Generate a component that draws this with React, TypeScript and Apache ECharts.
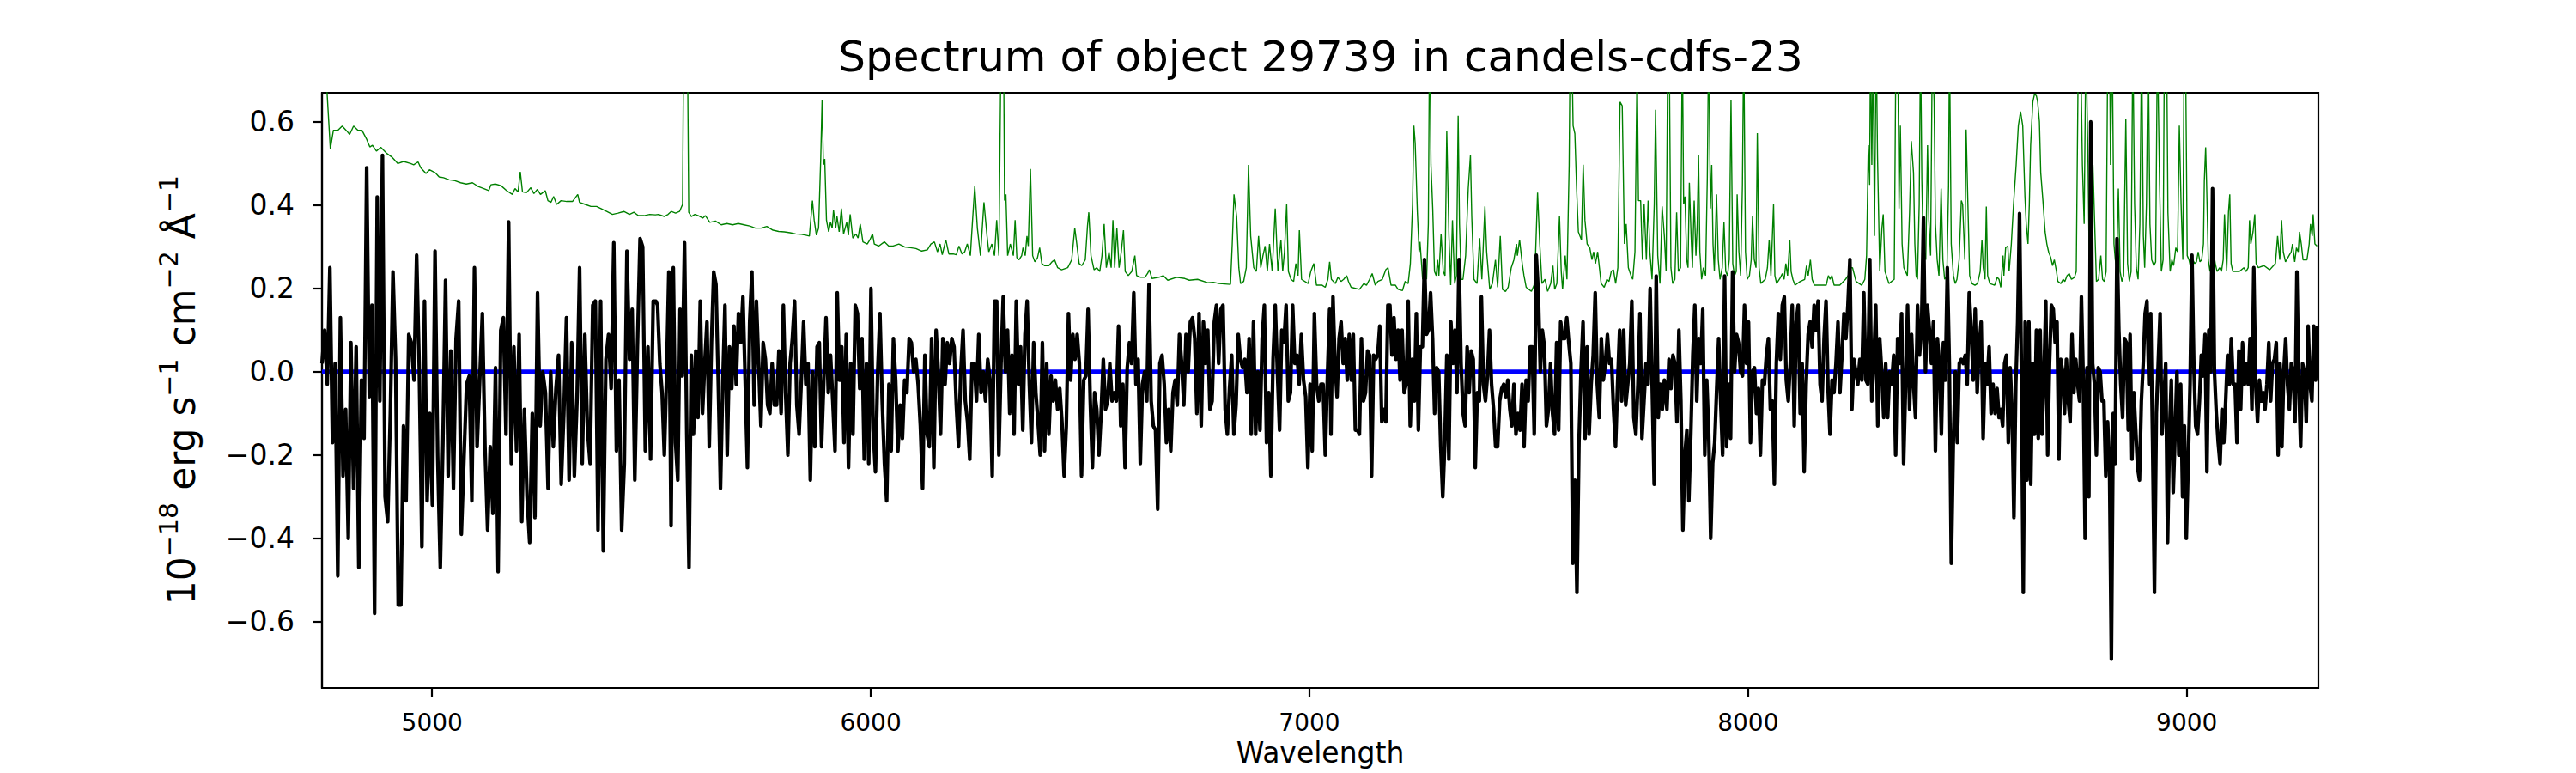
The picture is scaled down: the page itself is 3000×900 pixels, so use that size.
import React, { useEffect, useRef } from "react";
import * as echarts from "echarts";

const TITLE = "Spectrum of object 29739 in candels-cdfs-23";
const X_LABEL = "Wavelength";
const X_MIN = 4749;
const X_MAX = 9300;
const Y_MIN = -0.759;
const Y_MAX = 0.67;
const X_TICKS = [5000, 6000, 7000, 8000, 9000];
const Y_TICKS = [-0.6, -0.4, -0.2, 0, 0.2, 0.4, 0.6];
const ZERO_LEVEL = 0;

// Observed flux, read in six consecutive wavelength stretches (start, end in Angstrom)
const FLUX_RANGES = [
  [4749, 5510],
  [5514, 6282],
  [6287, 7046],
  [7049, 7809],
  [7815, 8572],
  [8576, 9298],
];
const FLUX_A = [0.02, 0.10, -0.03, 0.25, -0.17, 0.02, -0.49, 0.13, -0.25, -0.09, -0.40, 0.07, -0.28, 0.06, -0.47, -0.02, -0.16, 0.49, -0.06, 0.16, -0.58, 0.42, -0.07, 0.52, -0.30, -0.36, -0.10, 0.24, 0.03, -0.56, -0.56, -0.13, -0.31, 0.09, 0.07, -0.02, 0.28, 0.01, -0.42, 0.17, -0.31, -0.10, -0.32, 0.29, -0.20, -0.47, -0.17, 0.22, -0.25, 0.05, -0.28, 0.08, 0.17, -0.39, -0.21, -0.03, -0.01, -0.31, 0.25, -0.18, -0.02, 0.14, -0.18, -0.38, -0.18, -0.34, 0.01, -0.48, 0.10, 0.13, -0.15, 0.36, -0.22, 0.06, -0.19, 0.09, -0.36, -0.09, -0.30, -0.41, -0.10, -0.35, 0.19, -0.13, 0.00, -0.05, -0.28, 0.00, -0.18, -0.04, 0.04, -0.27, -0.10, 0.13, -0.26, 0.07, -0.25, -0.07, 0.25, -0.22, 0.09, -0.14, -0.22, 0.16, 0.17, -0.38, 0.17, -0.43, 0.03, 0.09, -0.04, 0.31, -0.19, -0.02, -0.38, -0.22, 0.29, 0.03, 0.15, -0.26, 0.06, 0.32, 0.30, -0.19, 0.06, -0.21, 0.17, 0.17];
const FLUX_B = [0.16, 0.02, -0.05, -0.20, -0.01, 0.24, -0.37, 0.25, -0.17, -0.26, 0.15, -0.01, 0.31, -0.15, -0.47, 0.04, -0.15, 0.05, -0.11, 0.17, -0.10, 0.02, 0.12, -0.18, 0.07, 0.24, 0.21, -0.02, -0.28, -0.03, 0.16, -0.20, 0.06, -0.04, 0.11, -0.03, 0.14, 0.07, 0.18, -0.02, -0.23, 0.12, 0.24, -0.08, 0.17, 0.02, -0.13, 0.07, 0.03, -0.08, -0.10, 0.02, -0.08, -0.08, 0.05, -0.10, 0.16, -0.05, -0.20, 0.02, 0.08, 0.17, -0.08, -0.15, -0.02, 0.12, -0.03, 0.02, -0.26, 0.00, -0.18, 0.06, 0.07, -0.18, -0.02, 0.13, -0.05, 0.04, -0.07, -0.19, 0.19, -0.02, 0.06, -0.17, 0.09, -0.23, 0.02, -0.15, 0.16, 0.14, -0.04, 0.08, -0.21, 0.02, -0.22, 0.20, -0.14, -0.24, 0.00, 0.14, -0.07, -0.22, -0.31, -0.03, -0.19, 0.08, -0.02, -0.19, -0.08, -0.16, -0.02, -0.05, 0.08, 0.07, 0.00, 0.03, -0.03, -0.13, -0.28, 0.04, -0.15, -0.18, 0.08, -0.23, 0.10, 0.00, -0.15, 0.08, -0.03, 0.07, 0.02, 0.08, 0.06, -0.08, -0.18, 0.00, 0.10, -0.07, -0.12, -0.21, 0.02, 0.02, -0.07, 0.09, -0.05, 0.00, -0.07, 0.03, -0.02, -0.25, 0.17];
const FLUX_C = [0.17, -0.20, 0.02, 0.18, 0.00, 0.10, -0.10, 0.04, -0.15, 0.17, -0.03, 0.06, -0.14, 0.09, 0.17, -0.03, -0.17, 0.07, -0.05, -0.12, -0.20, 0.07, -0.19, 0.02, -0.15, -0.01, -0.07, -0.02, -0.09, -0.04, -0.12, -0.25, -0.13, 0.14, -0.02, 0.09, 0.03, 0.09, 0.02, -0.25, -0.02, -0.01, 0.15, -0.07, -0.23, -0.05, -0.09, -0.20, -0.10, 0.03, -0.09, -0.07, 0.02, -0.07, -0.05, -0.07, 0.11, -0.13, -0.03, -0.23, 0.01, 0.07, 0.02, 0.19, -0.03, 0.03, -0.22, -0.03, 0.00, -0.07, 0.21, -0.07, -0.13, -0.14, -0.33, 0.02, 0.04, -0.03, -0.17, -0.09, -0.19, -0.05, -0.02, -0.08, 0.09, 0.02, -0.08, 0.09, 0.00, 0.12, 0.13, 0.08, -0.10, 0.14, -0.13, 0.12, 0.02, 0.10, -0.09, -0.07, 0.12, 0.16, 0.02, 0.15, 0.16, -0.09, -0.15, -0.04, 0.04, -0.15, -0.08, 0.09, 0.03, 0.01, 0.03, -0.05, 0.08, -0.15, 0.12, -0.15, 0.00, -0.14, 0.08, 0.16, -0.17, -0.05, -0.25, 0.03, 0.16, 0.00, -0.14, 0.10, 0.07, 0.16, -0.07, -0.05, 0.16, 0.02, 0.04, -0.03, 0.09, -0.02, -0.06, -0.23, -0.03, -0.19, 0.14, -0.03, -0.07, -0.03, -0.03, -0.20, -0.01, 0.15];
const FLUX_D = [-0.15, 0.18, 0.02, -0.06, 0.08, 0.12, 0.02, 0.08, -0.02, 0.09, -0.02, 0.09, -0.14, -0.14, -0.15, 0.08, -0.07, -0.05, 0.05, 0.04, -0.25, 0.04, 0.03, 0.04, 0.11, -0.12, -0.09, -0.12, 0.16, 0.16, 0.04, 0.13, 0.03, 0.10, -0.02, 0.10, -0.05, -0.03, 0.17, -0.13, 0.03, -0.07, 0.14, -0.14, 0.06, 0.06, 0.27, 0.09, 0.10, 0.19, 0.08, -0.10, 0.01, 0.00, -0.18, -0.30, -0.17, 0.04, -0.21, 0.12, 0.02, 0.10, -0.05, 0.27, 0.02, -0.10, -0.13, 0.06, -0.05, 0.05, 0.03, -0.23, -0.05, -0.07, 0.18, -0.03, -0.07, -0.01, 0.10, -0.03, -0.09, -0.18, -0.18, -0.07, -0.04, -0.03, -0.06, -0.02, -0.09, -0.13, -0.03, -0.15, -0.10, -0.14, -0.03, -0.18, -0.02, -0.07, 0.06, 0.06, -0.15, 0.28, 0.19, 0.00, 0.10, 0.06, -0.13, -0.09, 0.02, -0.10, -0.15, 0.07, -0.14, 0.12, 0.08, 0.08, 0.13, 0.07, 0.02, -0.46, -0.26, -0.53, -0.17, 0.00, 0.12, -0.16, 0.06, -0.15, -0.03, 0.04, 0.19, -0.03, -0.11, 0.08, -0.02, 0.02, 0.09, 0.02, 0.03, -0.09, -0.18, -0.03, 0.10, -0.07, 0.10, -0.08, -0.03, 0.02, 0.17, -0.11, -0.15, -0.03, 0.14, -0.16, -0.07, 0.02, -0.03, 0.20, -0.03, -0.27, 0.23, -0.11, -0.03, -0.09, -0.02];
const FLUX_E = [-0.09, 0.03, -0.04, 0.04, 0.02, -0.12, 0.10, -0.07, -0.38, -0.20, -0.14, -0.31, -0.15, 0.04, 0.16, -0.07, 0.08, 0.02, 0.15, -0.20, -0.02, -0.15, -0.40, -0.22, -0.17, -0.04, 0.08, -0.07, -0.20, 0.23, -0.18, -0.03, -0.16, 0.24, 0.00, 0.09, 0.07, 0.00, -0.01, 0.16, 0.02, 0.12, -0.17, 0.00, 0.01, -0.10, -0.04, -0.20, -0.02, -0.03, 0.04, 0.08, -0.09, -0.07, -0.27, 0.02, 0.14, 0.03, 0.16, 0.18, -0.02, -0.07, 0.02, 0.16, -0.13, 0.12, 0.16, -0.10, 0.02, -0.24, -0.03, 0.09, 0.12, 0.06, 0.16, 0.10, 0.17, -0.03, -0.07, 0.08, 0.17, -0.04, -0.15, -0.02, -0.05, 0.02, 0.12, -0.05, 0.04, 0.14, 0.08, 0.16, 0.27, -0.09, 0.03, 0.00, -0.03, 0.03, -0.02, 0.19, -0.02, -0.03, 0.27, -0.07, 0.02, 0.16, -0.13, 0.08, 0.00, -0.11, 0.02, -0.11, 0.00, -0.03, 0.04, -0.20, 0.08, 0.02, 0.14, -0.22, -0.03, 0.16, -0.09, 0.09, -0.03, -0.11, 0.16, 0.04, 0.10, 0.37, 0.00, 0.16, 0.10, 0.02, 0.12, -0.19, 0.08, 0.02, -0.15, 0.07, -0.02, 0.25, 0.02, -0.46, -0.17, 0.00, -0.17, 0.02, 0.03, 0.02, 0.04, -0.03, 0.19, 0.10, -0.02, 0.15, -0.05, 0.06, 0.12, -0.16, 0.02, -0.03, 0.06, -0.10, -0.03, -0.10, -0.04, -0.11];
const FLUX_F = [-0.09, -0.13, 0.02, 0.04, -0.17, 0.01, -0.09, -0.35, -0.03, 0.12, 0.38, 0.00, -0.53, 0.12, -0.26, 0.12, -0.27, 0.02, -0.15, 0.10, -0.16, 0.10, -0.15, -0.02, 0.17, -0.20, 0.02, 0.16, 0.15, 0.07, 0.12, -0.21, 0.03, 0.00, -0.10, 0.03, -0.07, -0.12, 0.09, -0.05, 0.03, -0.03, -0.07, 0.18, -0.02, -0.40, 0.01, -0.30, 0.60, 0.02, -0.03, -0.20, 0.01, 0.00, -0.07, -0.07, -0.25, -0.12, -0.22, -0.69, -0.10, -0.22, 0.32, 0.10, -0.03, -0.11, 0.08, 0.07, -0.14, 0.09, -0.21, -0.05, -0.14, -0.23, -0.26, -0.07, 0.02, 0.14, 0.17, -0.03, 0.14, -0.17, -0.53, -0.10, 0.02, 0.14, -0.15, -0.07, 0.02, -0.41, -0.15, -0.02, -0.29, -0.15, 0.00, -0.20, -0.03, -0.30, -0.13, -0.40, -0.22, -0.03, 0.28, 0.02, -0.13, -0.15, -0.07, 0.04, -0.01, 0.09, -0.24, 0.10, 0.00, 0.44, 0.00, -0.10, -0.17, -0.22, -0.09, -0.17, -0.07, 0.04, -0.03, 0.08, -0.03, -0.03, -0.17, 0.05, -0.09, 0.07, -0.03, 0.02, -0.03, 0.08, -0.09, 0.25, -0.03, -0.12, -0.02, -0.07, -0.05, -0.09, -0.03, 0.07, -0.07, 0.02, 0.03, 0.07, -0.20, 0.02, -0.18, 0.00, 0.08, -0.03, -0.09, 0.02, 0.00, -0.12, 0.24, -0.03, -0.18, 0.02, 0.00, -0.12, 0.11, -0.03, -0.07, 0.11, -0.02, 0.11];

// Noise / sky spectrum: [wavelength, value]
const NOISE_1 = [[4752, 0.9], [4760, 0.68], [4768, 0.535], [4775, 0.58], [4785, 0.58], [4795, 0.59], [4804, 0.58], [4812, 0.57], [4821, 0.59], [4831, 0.58], [4840, 0.58], [4850, 0.56], [4858, 0.54], [4864, 0.544], [4873, 0.53], [4883, 0.539], [4896, 0.525], [4909, 0.515], [4922, 0.5], [4935, 0.505], [4951, 0.5], [4958, 0.497], [4968, 0.504], [4974, 0.49], [4986, 0.476], [4994, 0.485], [5007, 0.478], [5016, 0.468], [5026, 0.466], [5039, 0.461], [5052, 0.459], [5065, 0.454], [5078, 0.451], [5092, 0.454], [5105, 0.445], [5118, 0.44], [5129, 0.435], [5134, 0.449], [5144, 0.451], [5157, 0.447], [5170, 0.435], [5183, 0.426], [5189, 0.44], [5196, 0.432], [5201, 0.48], [5206, 0.432], [5215, 0.43], [5225, 0.442], [5232, 0.428], [5240, 0.438], [5247, 0.426], [5258, 0.435], [5264, 0.411], [5271, 0.407], [5277, 0.421], [5284, 0.402], [5294, 0.411], [5307, 0.409], [5320, 0.409], [5332, 0.426], [5336, 0.407], [5349, 0.402], [5362, 0.397], [5375, 0.397], [5385, 0.392], [5398, 0.385], [5411, 0.378], [5424, 0.381], [5437, 0.385], [5450, 0.378], [5460, 0.383], [5470, 0.375], [5483, 0.375], [5496, 0.378], [5509, 0.377]];
const NOISE_2 = [[5516, 0.378], [5529, 0.373], [5538, 0.378], [5545, 0.385], [5555, 0.381], [5564, 0.385], [5571, 0.402], [5574, 0.9], [5579, 0.9], [5582, 0.8], [5585, 0.383], [5591, 0.373], [5599, 0.378], [5607, 0.375], [5617, 0.369], [5623, 0.375], [5633, 0.359], [5646, 0.362], [5659, 0.353], [5672, 0.356], [5685, 0.353], [5698, 0.356], [5711, 0.353], [5724, 0.35], [5737, 0.345], [5750, 0.345], [5763, 0.349], [5777, 0.34], [5790, 0.337], [5803, 0.336], [5816, 0.334], [5829, 0.331], [5842, 0.33], [5852, 0.328], [5860, 0.326], [5867, 0.411], [5871, 0.364], [5876, 0.328], [5881, 0.345], [5886, 0.516], [5889, 0.653], [5892, 0.497], [5895, 0.511], [5899, 0.364], [5904, 0.336], [5908, 0.359], [5912, 0.345], [5915, 0.388], [5920, 0.345], [5923, 0.373], [5928, 0.336], [5933, 0.392], [5938, 0.331], [5945, 0.359], [5949, 0.328], [5953, 0.378], [5959, 0.321], [5966, 0.331], [5971, 0.321], [5976, 0.355], [5982, 0.312], [5992, 0.307], [5998, 0.317], [6004, 0.331], [6008, 0.307], [6018, 0.302], [6031, 0.312], [6041, 0.302], [6051, 0.302], [6064, 0.307], [6077, 0.3], [6090, 0.298], [6103, 0.296], [6116, 0.29], [6129, 0.293], [6137, 0.307], [6145, 0.312], [6152, 0.288], [6158, 0.307], [6163, 0.281], [6171, 0.317], [6178, 0.283], [6188, 0.283], [6195, 0.281], [6201, 0.302], [6208, 0.283], [6214, 0.288], [6220, 0.307], [6227, 0.279], [6232, 0.364], [6237, 0.445], [6243, 0.345], [6250, 0.279], [6258, 0.407], [6265, 0.326], [6269, 0.288], [6276, 0.307], [6282, 0.279]];
const NOISE_3 = [[6287, 0.364], [6292, 0.279], [6298, 0.9], [6302, 0.9], [6305, 0.411], [6308, 0.426], [6312, 0.279], [6318, 0.307], [6325, 0.279], [6329, 0.364], [6333, 0.274], [6338, 0.269], [6344, 0.279], [6347, 0.298], [6352, 0.279], [6356, 0.326], [6359, 0.302], [6364, 0.487], [6369, 0.279], [6374, 0.264], [6380, 0.274], [6385, 0.298], [6390, 0.26], [6396, 0.255], [6406, 0.255], [6413, 0.264], [6419, 0.269], [6426, 0.25], [6435, 0.245], [6449, 0.25], [6458, 0.269], [6465, 0.345], [6469, 0.312], [6475, 0.26], [6481, 0.255], [6489, 0.269], [6494, 0.35], [6497, 0.383], [6502, 0.279], [6509, 0.245], [6515, 0.25], [6522, 0.241], [6527, 0.279], [6532, 0.355], [6537, 0.25], [6543, 0.288], [6548, 0.25], [6552, 0.364], [6556, 0.25], [6561, 0.345], [6566, 0.25], [6571, 0.288], [6576, 0.34], [6580, 0.241], [6587, 0.231], [6595, 0.241], [6602, 0.279], [6606, 0.231], [6615, 0.227], [6625, 0.227], [6631, 0.236], [6635, 0.245], [6641, 0.224], [6657, 0.227], [6667, 0.231], [6677, 0.22], [6697, 0.227], [6716, 0.224], [6726, 0.22], [6745, 0.222], [6768, 0.214], [6781, 0.215], [6794, 0.212], [6820, 0.21], [6824, 0.307], [6828, 0.426], [6834, 0.373], [6839, 0.25], [6843, 0.212], [6850, 0.217], [6856, 0.25], [6861, 0.497], [6866, 0.326], [6873, 0.25], [6879, 0.241], [6884, 0.326], [6889, 0.25], [6894, 0.279], [6899, 0.302], [6904, 0.241], [6909, 0.307], [6915, 0.241], [6922, 0.392], [6928, 0.241], [6935, 0.317], [6939, 0.241], [6943, 0.288], [6948, 0.402], [6952, 0.241], [6958, 0.222], [6964, 0.217], [6969, 0.26], [6974, 0.231], [6977, 0.34], [6982, 0.222], [6997, 0.212], [7003, 0.241], [7010, 0.26], [7016, 0.208], [7029, 0.208], [7036, 0.203], [7042, 0.222], [7046, 0.264]];
const NOISE_4 = [[7050, 0.222], [7059, 0.212], [7065, 0.227], [7072, 0.217], [7078, 0.222], [7085, 0.231], [7089, 0.217], [7095, 0.203], [7114, 0.198], [7124, 0.212], [7130, 0.208], [7137, 0.222], [7143, 0.236], [7150, 0.208], [7156, 0.217], [7166, 0.222], [7174, 0.245], [7179, 0.25], [7186, 0.208], [7196, 0.208], [7202, 0.198], [7212, 0.195], [7218, 0.217], [7225, 0.212], [7230, 0.26], [7235, 0.402], [7238, 0.591], [7241, 0.549], [7246, 0.383], [7250, 0.288], [7252, 0.312], [7258, 0.222], [7263, 0.25], [7267, 0.222], [7271, 0.355], [7274, 0.85], [7277, 0.497], [7281, 0.392], [7285, 0.241], [7289, 0.231], [7292, 0.269], [7295, 0.231], [7300, 0.331], [7305, 0.241], [7309, 0.231], [7313, 0.577], [7318, 0.326], [7322, 0.208], [7326, 0.364], [7331, 0.212], [7335, 0.231], [7339, 0.615], [7342, 0.355], [7346, 0.222], [7350, 0.222], [7356, 0.279], [7362, 0.44], [7367, 0.52], [7370, 0.373], [7375, 0.222], [7382, 0.212], [7388, 0.321], [7393, 0.222], [7400, 0.397], [7404, 0.288], [7411, 0.198], [7417, 0.212], [7424, 0.269], [7429, 0.203], [7435, 0.326], [7440, 0.198], [7447, 0.193], [7453, 0.203], [7460, 0.25], [7466, 0.269], [7472, 0.307], [7474, 0.279], [7479, 0.317], [7485, 0.26], [7489, 0.231], [7494, 0.203], [7506, 0.193], [7512, 0.208], [7515, 0.269], [7520, 0.43], [7525, 0.307], [7530, 0.212], [7537, 0.222], [7543, 0.193], [7550, 0.212], [7555, 0.255], [7559, 0.198], [7564, 0.212], [7570, 0.373], [7574, 0.241], [7577, 0.198], [7583, 0.279], [7587, 0.222], [7592, 0.497], [7594, 0.75], [7597, 0.85], [7601, 0.591], [7605, 0.572], [7609, 0.44], [7613, 0.336], [7620, 0.317], [7624, 0.497], [7628, 0.364], [7633, 0.307], [7639, 0.298], [7644, 0.269], [7648, 0.288], [7652, 0.26], [7657, 0.288], [7661, 0.25], [7665, 0.212], [7672, 0.203], [7678, 0.222], [7683, 0.217], [7688, 0.241], [7693, 0.245], [7698, 0.212], [7703, 0.25], [7708, 0.648], [7713, 0.639], [7718, 0.307], [7722, 0.355], [7727, 0.25], [7733, 0.231], [7737, 0.222], [7742, 0.288], [7747, 0.75], [7750, 0.411], [7755, 0.411], [7759, 0.269], [7763, 0.402], [7768, 0.269], [7772, 0.411], [7776, 0.288], [7781, 0.222], [7786, 0.402], [7789, 0.629], [7794, 0.279], [7799, 0.212], [7804, 0.397], [7809, 0.326]];
const NOISE_5 = [[7813, 0.241], [7817, 0.8], [7820, 0.8], [7824, 0.25], [7828, 0.212], [7833, 0.222], [7837, 0.383], [7841, 0.241], [7846, 0.25], [7850, 0.8], [7853, 0.402], [7856, 0.421], [7860, 0.269], [7863, 0.25], [7866, 0.454], [7870, 0.326], [7873, 0.25], [7877, 0.411], [7881, 0.279], [7884, 0.355], [7887, 0.52], [7890, 0.288], [7894, 0.222], [7898, 0.25], [7903, 0.231], [7907, 0.468], [7910, 0.8], [7914, 0.392], [7917, 0.497], [7920, 0.307], [7923, 0.241], [7928, 0.426], [7932, 0.269], [7936, 0.222], [7941, 0.25], [7945, 0.359], [7949, 0.241], [7953, 0.231], [7957, 0.269], [7961, 0.653], [7965, 0.26], [7969, 0.231], [7973, 0.241], [7975, 0.426], [7979, 0.288], [7983, 0.231], [7987, 0.449], [7990, 0.8], [7994, 0.288], [7998, 0.222], [8003, 0.231], [8007, 0.269], [8010, 0.373], [8014, 0.269], [8018, 0.25], [8021, 0.573], [8025, 0.25], [8029, 0.212], [8039, 0.222], [8044, 0.25], [8048, 0.317], [8052, 0.231], [8055, 0.317], [8058, 0.402], [8061, 0.231], [8065, 0.212], [8074, 0.227], [8078, 0.236], [8082, 0.222], [8086, 0.26], [8090, 0.231], [8095, 0.317], [8098, 0.241], [8102, 0.222], [8107, 0.208], [8119, 0.217], [8129, 0.222], [8133, 0.255], [8137, 0.231], [8142, 0.269], [8146, 0.222], [8151, 0.208], [8164, 0.208], [8178, 0.208], [8183, 0.231], [8187, 0.222], [8191, 0.231], [8196, 0.208], [8209, 0.208], [8222, 0.222], [8228, 0.231], [8234, 0.25], [8238, 0.25], [8246, 0.217], [8259, 0.208], [8266, 0.222], [8270, 0.279], [8274, 0.544], [8277, 0.449], [8279, 0.8], [8282, 0.497], [8285, 0.8], [8288, 0.326], [8292, 0.8], [8295, 0.516], [8300, 0.241], [8305, 0.345], [8308, 0.378], [8312, 0.241], [8321, 0.212], [8333, 0.222], [8337, 0.8], [8341, 0.8], [8344, 0.392], [8347, 0.591], [8351, 0.307], [8355, 0.25], [8363, 0.231], [8368, 0.383], [8372, 0.554], [8377, 0.478], [8380, 0.307], [8383, 0.231], [8386, 0.222], [8390, 0.402], [8393, 0.8], [8396, 0.459], [8399, 0.307], [8405, 0.269], [8409, 0.544], [8412, 0.364], [8416, 0.279], [8420, 0.8], [8424, 0.648], [8427, 0.355], [8431, 0.269], [8435, 0.231], [8440, 0.44], [8444, 0.269], [8448, 0.222], [8453, 0.231], [8457, 0.449], [8459, 0.8], [8463, 0.307], [8468, 0.231], [8472, 0.212], [8476, 0.222], [8481, 0.269], [8486, 0.411], [8489, 0.402], [8494, 0.269], [8497, 0.582], [8501, 0.402], [8505, 0.231], [8510, 0.212], [8517, 0.208], [8523, 0.212], [8529, 0.241], [8533, 0.317], [8536, 0.25], [8540, 0.222], [8543, 0.397], [8546, 0.231], [8551, 0.212], [8562, 0.208], [8568, 0.227], [8572, 0.222]];
const NOISE_6 = [[8576, 0.203], [8581, 0.279], [8583, 0.231], [8587, 0.298], [8592, 0.302], [8595, 0.241], [8600, 0.307], [8605, 0.402], [8611, 0.497], [8616, 0.591], [8621, 0.625], [8626, 0.591], [8631, 0.421], [8634, 0.355], [8638, 0.307], [8641, 0.402], [8644, 0.544], [8649, 0.648], [8653, 0.667], [8657, 0.663], [8660, 0.648], [8664, 0.601], [8667, 0.478], [8672, 0.411], [8677, 0.336], [8681, 0.307], [8685, 0.288], [8690, 0.274], [8694, 0.255], [8698, 0.269], [8703, 0.241], [8706, 0.217], [8713, 0.212], [8718, 0.222], [8722, 0.217], [8727, 0.231], [8732, 0.236], [8737, 0.222], [8744, 0.227], [8748, 0.241], [8753, 0.8], [8757, 0.85], [8762, 0.497], [8766, 0.355], [8770, 0.8], [8775, 0.497], [8778, 0.222], [8783, 0.231], [8786, 0.497], [8790, 0.355], [8794, 0.217], [8799, 0.222], [8804, 0.279], [8808, 0.222], [8812, 0.217], [8816, 0.241], [8820, 0.8], [8824, 0.8], [8826, 0.497], [8830, 0.8], [8834, 0.307], [8837, 0.269], [8840, 0.25], [8844, 0.44], [8848, 0.241], [8852, 0.217], [8856, 0.231], [8861, 0.606], [8865, 0.26], [8869, 0.217], [8873, 0.241], [8877, 0.8], [8881, 0.402], [8885, 0.25], [8889, 0.222], [8893, 0.355], [8897, 0.8], [8901, 0.326], [8904, 0.25], [8908, 0.402], [8912, 0.8], [8916, 0.355], [8920, 0.269], [8925, 0.255], [8929, 0.264], [8933, 0.8], [8938, 0.449], [8942, 0.241], [8946, 0.269], [8949, 0.8], [8954, 0.8], [8957, 0.383], [8962, 0.241], [8966, 0.269], [8970, 0.255], [8975, 0.298], [8979, 0.288], [8983, 0.591], [8987, 0.402], [8991, 0.269], [8994, 0.8], [8997, 0.8], [9001, 0.279], [9005, 0.269], [9009, 0.25], [9014, 0.269], [9018, 0.26], [9022, 0.264], [9026, 0.288], [9030, 0.264], [9034, 0.269], [9038, 0.307], [9040, 0.459], [9043, 0.539], [9045, 0.459], [9049, 0.269], [9053, 0.241], [9057, 0.279], [9061, 0.288], [9065, 0.26], [9069, 0.241], [9075, 0.25], [9079, 0.241], [9083, 0.269], [9086, 0.378], [9091, 0.241], [9095, 0.383], [9098, 0.426], [9101, 0.26], [9105, 0.241], [9120, 0.241], [9130, 0.25], [9135, 0.241], [9140, 0.25], [9143, 0.364], [9146, 0.307], [9151, 0.336], [9155, 0.378], [9158, 0.26], [9163, 0.25], [9176, 0.255], [9189, 0.245], [9202, 0.26], [9207, 0.326], [9212, 0.269], [9216, 0.364], [9220, 0.288], [9225, 0.264], [9233, 0.279], [9238, 0.288], [9241, 0.307], [9246, 0.264], [9250, 0.298], [9254, 0.288], [9257, 0.336], [9261, 0.307], [9265, 0.269], [9274, 0.269], [9279, 0.307], [9282, 0.355], [9286, 0.326], [9288, 0.378], [9292, 0.307], [9297, 0.302]];

const FONT = "DejaVu Sans";

function buildFlux() {
  const segs = [FLUX_A, FLUX_B, FLUX_C, FLUX_D, FLUX_E, FLUX_F];
  const out: number[][] = [];
  segs.forEach((vals, k) => {
    const [a, b] = FLUX_RANGES[k];
    const n = vals.length;
    vals.forEach((v, i) => out.push([a + ((b - a) * i) / (n - 1), v]));
  });
  return out;
}

const fmtY = (v: number) => {
  const s = Math.abs(v).toFixed(1);
  return v < -1e-9 ? "\u2212" + s : s;
};

export default function App() {
  const ref = useRef<HTMLDivElement>(null);
  useEffect(() => {
    if (!ref.current) return;
    const chart = echarts.init(ref.current, undefined, { renderer: "svg" });
    const noise = [...NOISE_1, ...NOISE_2, ...NOISE_3, ...NOISE_4, ...NOISE_5, ...NOISE_6];
    const flux = buildFlux();
    const axisLine = { show: true, onZero: false, lineStyle: { color: "#000", width: 2.2 } };
    chart.setOption({
      animation: false,
      backgroundColor: "#ffffff",
      grid: {
        left: 375,
        right: 300,
        top: 108,
        bottom: 99,
        show: true,
        borderColor: "#000",
        borderWidth: 2.2,
        backgroundColor: "transparent",
        containLabel: false,
        outerBoundsMode: "none",
      },
      xAxis: {
        type: "value",
        min: X_MIN,
        max: X_MAX,
        axisLine,
        axisTick: { show: true, inside: false, length: 10, lineStyle: { color: "#000", width: 2.2 }, customValues: X_TICKS },
        axisLabel: {
          show: true,
          customValues: X_TICKS,
          fontSize: 28,
          fontFamily: FONT,
          color: "#000",
          margin: 26,
          formatter: (v: number) => String(v),
        },
        splitLine: { show: false },
        name: X_LABEL,
        nameLocation: "middle",
        nameGap: 58,
        nameTextStyle: { fontSize: 33, fontFamily: FONT, color: "#000" },
      },
      yAxis: {
        type: "value",
        min: Y_MIN,
        max: Y_MAX,
        axisLine,
        axisTick: { show: true, inside: false, length: 10, lineStyle: { color: "#000", width: 2.2 }, customValues: Y_TICKS },
        axisLabel: {
          show: true,
          customValues: Y_TICKS,
          fontSize: 33,
          fontFamily: FONT,
          color: "#000",
          margin: 32,
          formatter: (v: number) => fmtY(v),
        },
        splitLine: { show: false },
      },
      graphic: [
        {
          type: "text",
          x: 1538,
          y: 66,
          silent: true,
          style: {
            text: TITLE,
            fontSize: 50,
            fontFamily: FONT,
            fill: "#000",
            align: "center",
            verticalAlign: "middle",
          },
        },
        {
          type: "text",
          x: 207,
          y: 454,
          rotation: Math.PI / 2,
          silent: true,
          style: {
            text: "{b|10}{s|\u221218}{b| erg s}{s|\u22121}{b| cm}{s|\u22122}{b| \u00C5}{s|\u22121}",
            fill: "#000",
            fontFamily: FONT,
            align: "center",
            verticalAlign: "middle",
            rich: {
              b: { fontSize: 44, lineHeight: 52, verticalAlign: "bottom", fontFamily: FONT, fill: "#000" },
              s: { fontSize: 30, lineHeight: 22, verticalAlign: "top", fontFamily: FONT, fill: "#000" },
            },
          },
        },
      ],
      series: [
        {
          type: "line",
          data: noise,
          showSymbol: false,
          symbol: "none",
          silent: true,
          lineStyle: { color: "#008000", width: 1.4 },
          z: 2,
        },
        {
          type: "line",
          data: [
            [X_MIN, ZERO_LEVEL],
            [X_MAX, ZERO_LEVEL],
          ],
          showSymbol: false,
          symbol: "none",
          silent: true,
          lineStyle: { color: "#0000ff", width: 5.5 },
          z: 3,
        },
        {
          type: "line",
          data: flux,
          showSymbol: false,
          symbol: "none",
          silent: true,
          lineStyle: { color: "#000000", width: 4.2, join: "round" },
          z: 4,
        },
      ],
    });
    return () => chart.dispose();
  }, []);
  return (
    <div
      ref={ref}
      style={{ position: "absolute", left: 0, top: 0, width: 3000, height: 900, background: "#fff" }}
    />
  );
}
